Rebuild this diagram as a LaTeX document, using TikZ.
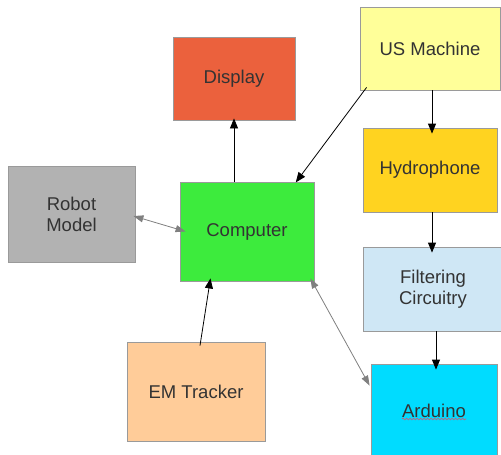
\documentclass[tikz,border=0pt]{standalone}
\usepackage{fontspec}
\setmainfont{Liberation Sans}
\usetikzlibrary{arrows.meta,decorations.pathmorphing}
\definecolor{bordergray}{HTML}{9A9A9A}
\definecolor{textgray}{HTML}{333333}
\definecolor{cDisplay}{HTML}{EB613D}
\definecolor{cUS}{HTML}{FFFF99}
\definecolor{cHydro}{HTML}{FFD320}
\definecolor{cRobot}{HTML}{B2B2B2}
\definecolor{cComp}{HTML}{3DEB3D}
\definecolor{cFilt}{HTML}{CFE7F5}
\definecolor{cEM}{HTML}{FFCC99}
\definecolor{cArd}{HTML}{00DCFF}
\definecolor{arrgray}{HTML}{808080}
\definecolor{wavered}{HTML}{E0506A}
\begin{document}
\begin{tikzpicture}[x=1pt,y=-1pt,
  box/.style={draw=bordergray, line width=0.8pt, text=textgray,
    font=\fontsize{18.5}{21}\selectfont, align=center, inner sep=0pt},
  blk/.style={draw=black, line width=0.8pt, -{Triangle[length=10pt,width=8pt]}},
  gry/.style={draw=arrgray, line width=0.8pt, {Triangle[length=10pt,width=7pt]}-{Triangle[length=10pt,width=7pt]}, arrgray}]
\useasboundingbox (0,0) rectangle (501,455);
\fill[white] (0,0) rectangle (501,455);
\node[box, fill=cDisplay, minimum width=122pt, minimum height=83pt] (display) at (234,78.5) {Display};
\node[box, fill=cUS, minimum width=140pt, minimum height=83pt] (us) at (430,48.5) {US Machine};
\node[box, fill=cHydro, minimum width=134pt, minimum height=84pt] (hydro) at (430,170) {Hydrophone};
\node[box, fill=cRobot, minimum width=127pt, minimum height=96pt] (robot) at (71.5,214) {Robot\\Model};
\node[box, fill=cComp, minimum width=134pt, minimum height=99pt] (comp) at (247,231.5) {Computer};
\node[box, fill=cFilt, minimum width=140pt, minimum height=84pt] (filt) at (433,289) {Filtering\\Circuitry};
\node[box, fill=cEM, minimum width=138pt, minimum height=99pt] (em) at (196,391.5) {EM Tracker};
\node[box, fill=cArd, minimum width=126pt, minimum height=94pt] (ard) at (434,411) {Arduino};
\draw[wavered, line width=0.6pt, decorate, decoration={snake, amplitude=0.9pt, segment length=3.5pt}]
  ([xshift=-32pt,yshift=-8pt]ard.center) -- ([xshift=32pt,yshift=-8pt]ard.center);
% connectors
\draw[blk, shorten >=-2pt] (comp.north -| display.south) -- (display.south);
\draw[blk, shorten >=-1pt] ([xshift=7pt,yshift=3pt]us.south west) -- ([xshift=-18pt]comp.north east);
\draw[blk, shorten >=-6pt] ([xshift=2pt]us.south) -- ([xshift=2pt]hydro.north);
\draw[blk, shorten >=-6pt] ([xshift=2pt]hydro.south) -- ([xshift=-1pt]filt.north);
\draw[blk, shorten >=-6pt] ([xshift=3pt]filt.south) -- ([xshift=2pt]ard.north);
\draw[blk, shorten >=-3pt] ([xshift=4pt,yshift=-4pt]em.north) -- ([xshift=-37pt]comp.south);
\draw[gry] ([xshift=-2pt,yshift=-2pt]robot.east) -- ([xshift=6pt]comp.west);
\draw[gry] ([xshift=-4pt,yshift=3pt]comp.south east) -- ([xshift=-1pt,yshift=-22pt]ard.north west);
\end{tikzpicture}
\end{document}
